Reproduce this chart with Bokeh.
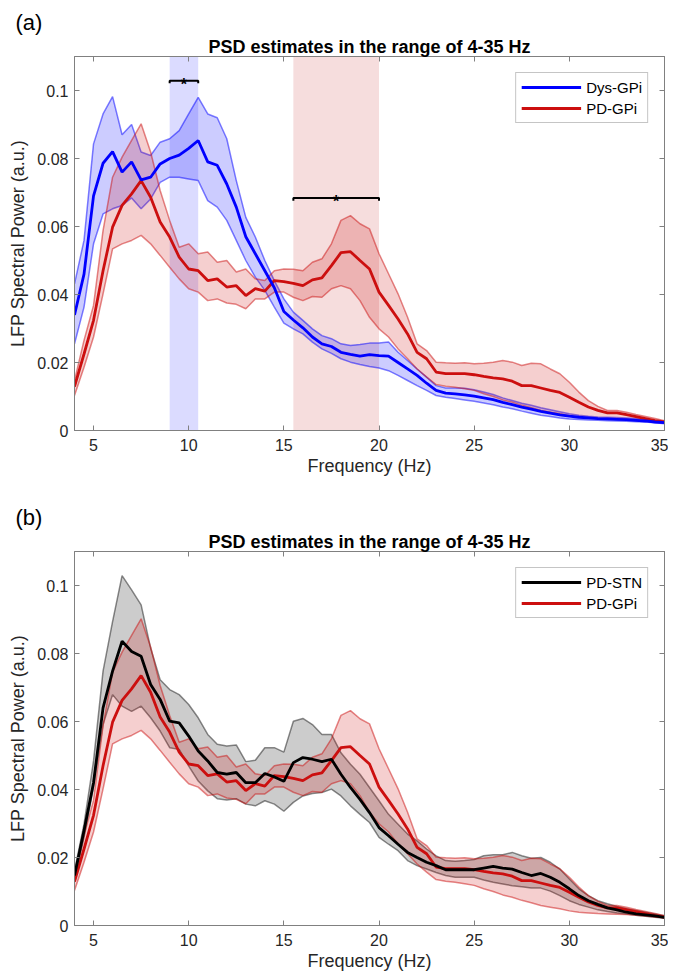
import numpy as np
from bokeh.plotting import figure
from bokeh.models import (Range1d, LinearAxis, FixedTicker, Legend, LegendItem,
                          BoxAnnotation, Title)
from bokeh.layouts import column
from bokeh.embed import file_html
from bokeh.resources import INLINE
from bokeh.core.properties import value

# ---------------- data ----------------
freq = np.arange(4.0, 35.01, 0.5)

dys_mean = [0.034, 0.046, 0.069, 0.0786, 0.082, 0.076, 0.079, 0.0737, 0.0745, 0.0784,
            0.080, 0.081, 0.083, 0.0853, 0.079, 0.078, 0.0725, 0.0657, 0.057, 0.052,
            0.047, 0.042, 0.035, 0.0325, 0.0302, 0.0275, 0.0255, 0.0247, 0.023, 0.0224,
            0.0219, 0.0223, 0.022, 0.0219, 0.020, 0.0181, 0.0162, 0.0139, 0.0118, 0.011,
            0.0108, 0.0105, 0.0101, 0.0096, 0.0091, 0.0083, 0.0076, 0.0069, 0.0063, 0.0056,
            0.0051, 0.0046, 0.0042, 0.0039, 0.0037, 0.0035, 0.0034, 0.0033, 0.0032, 0.0030,
            0.0028, 0.0025, 0.0023]
dys_upper = [0.0431, 0.0559, 0.0843, 0.0931, 0.0982, 0.087, 0.090, 0.0819, 0.0809, 0.0848,
             0.0858, 0.0882, 0.0931, 0.098, 0.0931, 0.092, 0.0858, 0.0735, 0.0627, 0.0569,
             0.050, 0.0441, 0.0387, 0.0348, 0.0324, 0.0299, 0.0279, 0.027, 0.0255, 0.025,
             0.0253, 0.0257, 0.0257, 0.026, 0.023, 0.0206, 0.0181, 0.0157, 0.0132, 0.0125,
             0.0125, 0.0124, 0.012, 0.0113, 0.0106, 0.0096, 0.0088, 0.008, 0.0074, 0.0067,
             0.0061, 0.0055, 0.0049, 0.0045, 0.0042, 0.004, 0.0039, 0.0038, 0.0037, 0.0035,
             0.0032, 0.0029, 0.0025]
dys_lower = [0.0255, 0.0363, 0.0549, 0.0637, 0.0652, 0.0662, 0.0684, 0.0652, 0.0681, 0.073,
             0.0745, 0.0745, 0.074, 0.0735, 0.0676, 0.0657, 0.0618, 0.0559, 0.050, 0.0451,
             0.0412, 0.0363, 0.0316, 0.0299, 0.0284, 0.026, 0.024, 0.0227, 0.0211, 0.0201,
             0.0194, 0.0188, 0.0184, 0.0176, 0.0162, 0.0147, 0.0132, 0.0118, 0.0103, 0.0098,
             0.0094, 0.009, 0.0086, 0.0081, 0.0076, 0.0069, 0.0064, 0.0057, 0.0051, 0.0045,
             0.0041, 0.0037, 0.0034, 0.0032, 0.0031, 0.003, 0.0029, 0.0028, 0.0027, 0.0026,
             0.0025, 0.0023, 0.002]

pdgpi_mean = [0.0129, 0.0225, 0.0324, 0.047, 0.0598, 0.0662, 0.0696, 0.0735, 0.0686, 0.0613,
              0.0569, 0.051, 0.0475, 0.047, 0.0441, 0.0446, 0.0422, 0.0426, 0.0397, 0.0417,
              0.041, 0.0441, 0.0438, 0.0433, 0.0426, 0.0443, 0.0449, 0.0485, 0.0523, 0.0526,
              0.050, 0.0475, 0.0407, 0.0368, 0.0328, 0.0284, 0.023, 0.0211, 0.0172, 0.0167,
              0.0167, 0.0167, 0.0164, 0.0159, 0.0155, 0.0152, 0.0145, 0.0132, 0.0132, 0.0125,
              0.0118, 0.0112, 0.0098, 0.0083, 0.0069, 0.0059, 0.0052, 0.0052, 0.0047, 0.0041,
              0.0035, 0.0029, 0.0025]
pdgpi_upper = [0.0147, 0.0265, 0.0368, 0.0588, 0.0745, 0.0804, 0.0853, 0.0902, 0.0819, 0.0706,
               0.0618, 0.0539, 0.0549, 0.052, 0.0525, 0.0495, 0.050, 0.0466, 0.0475, 0.0446,
               0.0441, 0.047, 0.0475, 0.0474, 0.047, 0.0495, 0.0505, 0.0549, 0.0618, 0.0632,
               0.0608, 0.0593, 0.052, 0.0461, 0.0402, 0.0333, 0.0255, 0.0235, 0.0201, 0.0199,
               0.0198, 0.0199, 0.0196, 0.0198, 0.0201, 0.0206, 0.0201, 0.0191, 0.0198, 0.0196,
               0.0181, 0.0167, 0.0142, 0.0113, 0.0088, 0.0071, 0.0059, 0.0059, 0.0054, 0.0047,
               0.0041, 0.0035, 0.0029]
pdgpi_lower = [0.0103, 0.0186, 0.0275, 0.0402, 0.0534, 0.0549, 0.0559, 0.0574, 0.0549, 0.0515,
               0.048, 0.0446, 0.0417, 0.0407, 0.0382, 0.0387, 0.0375, 0.0371, 0.0358, 0.0387,
               0.0387, 0.0407, 0.0407, 0.0392, 0.0382, 0.0394, 0.0392, 0.0417, 0.0426, 0.0417,
               0.0382, 0.0333, 0.0299, 0.0275, 0.024, 0.0211, 0.0181, 0.0157, 0.0135, 0.013,
               0.0127, 0.0123, 0.0118, 0.0108, 0.010, 0.009, 0.0083, 0.0074, 0.0067, 0.0059,
               0.0054, 0.0049, 0.0043, 0.0039, 0.0037, 0.0035, 0.0034, 0.0033, 0.0032, 0.003,
               0.0028, 0.0025, 0.0023]

pdstn_mean = [0.0147, 0.0279, 0.042, 0.064, 0.0748, 0.0836, 0.0806, 0.0792, 0.0709, 0.0665,
              0.0601, 0.0596, 0.0557, 0.0513, 0.0484, 0.045, 0.0445, 0.045, 0.042, 0.042,
              0.0447, 0.0437, 0.0424, 0.0479, 0.0494, 0.0489, 0.0482, 0.0489, 0.0445, 0.0406,
              0.0371, 0.0332, 0.0288, 0.0264, 0.0239, 0.0215, 0.020, 0.0186, 0.0176, 0.0164,
              0.0164, 0.0164, 0.0164, 0.0169, 0.0174, 0.0169, 0.0166, 0.0156, 0.0147, 0.0153,
              0.0142, 0.0127, 0.0108, 0.0088, 0.0073, 0.0062, 0.0052, 0.0046, 0.0039, 0.0034,
              0.0031, 0.0028, 0.0024]
pdstn_upper = [0.0161, 0.0298, 0.0484, 0.0748, 0.0894, 0.1029, 0.0987, 0.0943, 0.0816, 0.0723,
               0.0694, 0.0679, 0.065, 0.0611, 0.0562, 0.0533, 0.0528, 0.0531, 0.0482, 0.0486,
               0.0523, 0.0523, 0.051, 0.0601, 0.0609, 0.0591, 0.0562, 0.0562, 0.0508, 0.0474,
               0.0445, 0.0406, 0.0367, 0.0327, 0.0298, 0.0269, 0.0249, 0.0225, 0.0205, 0.0191,
               0.0189, 0.0191, 0.0194, 0.0205, 0.0208, 0.0208, 0.0215, 0.0205, 0.0198, 0.020,
               0.0186, 0.0166, 0.0137, 0.0108, 0.0088, 0.0073, 0.0064, 0.0056, 0.0049, 0.0044,
               0.0039, 0.0034, 0.0029]
pdstn_lower = [0.0132, 0.0259, 0.0406, 0.0591, 0.0679, 0.0645, 0.063, 0.0645, 0.0611, 0.0572,
               0.0523, 0.0518, 0.0469, 0.0425, 0.0396, 0.0373, 0.0369, 0.0373, 0.0357, 0.0352,
               0.0367, 0.0357, 0.0336, 0.0362, 0.0381, 0.0388, 0.0391, 0.0401, 0.0381, 0.0352,
               0.0327, 0.0303, 0.0259, 0.0239, 0.022, 0.0191, 0.0176, 0.0166, 0.0156, 0.0147,
               0.0142, 0.0142, 0.0142, 0.0134, 0.0127, 0.0122, 0.0117, 0.0114, 0.011, 0.011,
               0.0101, 0.0088, 0.0073, 0.0062, 0.0054, 0.0046, 0.0041, 0.0037, 0.0034, 0.003,
               0.0027, 0.0024, 0.0021]

x_ticks = [5, 10, 15, 20, 25, 30, 35]
y_ticks = [0, 0.02, 0.04, 0.06, 0.08, 0.1]
y_tick_labels = ["0", "0.02", "0.04", "0.06", "0.08", "0.1"]

# significant frequency ranges (Hz) and bracket heights (a.u.)
sig_dys_range = [9.0, 10.5]
sig_dys_height = 0.1029
sig_pd_range = [15.5, 20.0]
sig_pd_height = 0.0684

title_text = "PSD estimates in the range of 4-35 Hz"

# ---------------- styling ----------------
FONT = "Liberation Sans"
AXC = "#808080"
TXT = "#262626"
BLUE = "#0000ff"
RED = "#cc0f0f"
BLACK = "#000000"


def style_axis(ax, show_labels=True):
    ax.axis_line_color = AXC
    ax.axis_line_width = 1
    ax.major_tick_line_color = AXC
    ax.major_tick_in = 5
    ax.major_tick_out = 0
    ax.minor_tick_line_color = None
    ax.major_label_text_font = FONT
    if show_labels:
        ax.major_label_text_font_size = "16px"
        ax.major_label_text_color = TXT
    else:
        ax.major_label_text_font_size = "1px"
        ax.major_label_text_color = None
        ax.major_label_standoff = 0


def make_panel(height, min_top, min_bottom, tag):
    p = figure(width=668, height=height, x_range=Range1d(4, 35), y_range=Range1d(0, 0.11),
               output_backend="svg", toolbar_location=None, title=None,
               min_border_left=74, min_border_right=4,
               min_border_top=min_top, min_border_bottom=min_bottom)
    p.xgrid.visible = False
    p.ygrid.visible = False
    p.outline_line_color = AXC
    p.background_fill_color = "white"
    p.border_fill_color = "white"

    p.xaxis.ticker = FixedTicker(ticks=x_ticks)
    p.yaxis.ticker = FixedTicker(ticks=y_ticks)
    p.yaxis.major_label_overrides = {t: l for t, l in zip(y_ticks, y_tick_labels)}
    for ax in p.xaxis + p.yaxis:
        style_axis(ax)
    p.xaxis.major_label_standoff = 8
    p.xaxis.axis_label = "Frequency (Hz)"
    p.xaxis.axis_label_standoff = 2
    p.yaxis.axis_label = "LFP Spectral Power (a.u.)"
    p.yaxis.major_label_standoff = 6
    p.yaxis.axis_label_standoff = 6
    for ax in p.xaxis + p.yaxis:
        ax.axis_label_text_font = FONT
        ax.axis_label_text_font_size = "18px"
        ax.axis_label_text_font_style = "normal"
        ax.axis_label_text_color = TXT

    top_ax = LinearAxis(ticker=FixedTicker(ticks=x_ticks))
    style_axis(top_ax, show_labels=False)
    p.add_layout(top_ax, "above")
    right_ax = LinearAxis(ticker=FixedTicker(ticks=y_ticks))
    style_axis(right_ax, show_labels=False)
    p.add_layout(right_ax, "right")

    p.add_layout(Title(text=title_text, align="center", text_font=FONT,
                       text_font_size="18px", text_font_style="bold",
                       text_color="black", standoff=0), "above")
    p.add_layout(Title(text=tag, align="left", offset=-59, text_font=FONT,
                       text_font_size="22px", text_font_style="normal",
                       text_color="black", standoff=0), "above")
    return p


def add_band(p, lower, upper, color, fill_alpha, edge_alpha):
    p.varea(x=freq, y1=lower, y2=upper, fill_color=color, fill_alpha=fill_alpha)
    p.line(freq, upper, line_color=color, line_alpha=edge_alpha, line_width=1.5)
    p.line(freq, lower, line_color=color, line_alpha=edge_alpha, line_width=1.5)


def add_bracket(p, rng, h):
    d = 0.0008
    p.line([rng[0], rng[0], rng[1], rng[1]], [h - d, h, h, h - d],
           line_color="black", line_width=2)
    p.text(x=[(rng[0] + rng[1]) / 2], y=[h], text=["*"], text_align="center",
           text_baseline="alphabetic", y_offset=4, text_font=value(FONT),
           text_font_size="16px", text_font_style="bold", text_color="black")


def make_legend(items):
    return Legend(items=items, location="top_right", margin=16, padding=5, spacing=3,
                  glyph_width=60, glyph_height=18, label_height=18, label_standoff=5,
                  label_text_font=FONT, label_text_font_size="15px", label_text_color="black",
                  border_line_color="#8c8c8c", border_line_width=1,
                  background_fill_color="white", background_fill_alpha=1)


# ---------------- panel (a) ----------------
pa = make_panel(481, 56, 51, "(a)")
pa.add_layout(BoxAnnotation(left=sig_dys_range[0], right=sig_dys_range[1], fill_color=BLUE,
                            fill_alpha=0.14, line_color=None, level="underlay"))
pa.add_layout(BoxAnnotation(left=sig_pd_range[0], right=sig_pd_range[1], fill_color="#cc3333",
                            fill_alpha=0.17, line_color=None, level="underlay"))
add_band(pa, dys_lower, dys_upper, BLUE, 0.2, 0.5)
add_band(pa, pdgpi_lower, pdgpi_upper, RED, 0.2, 0.5)
ra_red = pa.line(freq, pdgpi_mean, line_color=RED, line_width=2.8)
ra_blue = pa.line(freq, dys_mean, line_color=BLUE, line_width=2.8)
add_bracket(pa, sig_dys_range, sig_dys_height)
add_bracket(pa, sig_pd_range, sig_pd_height)
pa.add_layout(make_legend([LegendItem(label="Dys-GPi", renderers=[ra_blue]),
                           LegendItem(label="PD-GPi", renderers=[ra_red])]))

# ---------------- panel (b) ----------------
pb = make_panel(492, 70, 48, "(b)")
add_band(pb, pdstn_lower, pdstn_upper, BLACK, 0.2, 0.45)
add_band(pb, pdgpi_lower, pdgpi_upper, RED, 0.2, 0.5)
rb_red = pb.line(freq, pdgpi_mean, line_color=RED, line_width=2.8)
rb_black = pb.line(freq, pdstn_mean, line_color=BLACK, line_width=2.8)
pb.add_layout(make_legend([LegendItem(label="PD-STN", renderers=[rb_black]),
                           LegendItem(label="PD-GPi", renderers=[rb_red])]))

layout = column(pa, pb, spacing=0)
open("out.html", "w").write(file_html(layout, INLINE))
